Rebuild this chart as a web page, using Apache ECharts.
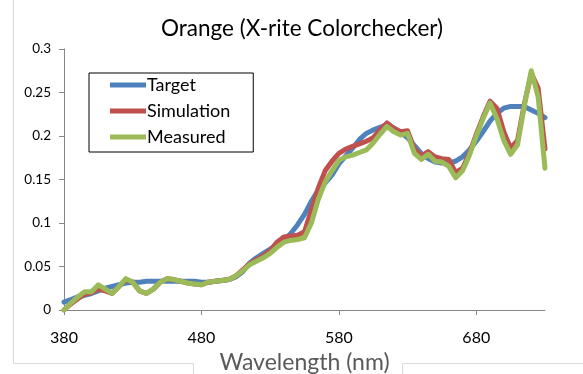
<!DOCTYPE html>
<html>
<head>
<meta charset="utf-8">
<script src="https://cdn.jsdelivr.net/npm/echarts@6/dist/echarts.min.js"></script>
<style>html,body{margin:0;padding:0;background:#fff}#c{width:583px;height:374px}</style>
</head>
<body>
<div id="c"></div>
<script>
var wavelengths = [380,385,390,395,400,405,410,415,420,425,430,435,440,445,450,455,460,465,470,475,480,485,490,495,500,505,510,515,520,525,530,535,540,545,550,555,560,565,570,575,580,585,590,595,600,605,610,615,620,625,630,635,640,645,650,655,660,665,670,675,680,685,690,695,700,705,710,715,720,725,730];
var target = [0.009,0.012,0.015,0.017,0.019,0.022,0.025,0.027,0.029,0.031,0.032,0.032,0.033,0.033,0.033,0.033,0.033,0.033,0.033,0.033,0.032,0.032,0.033,0.034,0.035,0.038,0.044,0.054,0.060,0.065,0.070,0.075,0.080,0.088,0.098,0.110,0.125,0.138,0.146,0.155,0.168,0.177,0.186,0.196,0.203,0.207,0.210,0.213,0.209,0.204,0.198,0.189,0.180,0.174,0.170,0.169,0.169,0.171,0.176,0.184,0.194,0.205,0.217,0.226,0.232,0.234,0.234,0.234,0.230,0.226,0.221];
var simulation = [0.000,0.007,0.013,0.018,0.020,0.024,0.022,0.019,0.027,0.035,0.032,0.022,0.019,0.024,0.032,0.036,0.035,0.033,0.031,0.030,0.029,0.032,0.033,0.034,0.035,0.039,0.046,0.053,0.058,0.062,0.068,0.078,0.084,0.085,0.086,0.090,0.115,0.140,0.160,0.171,0.180,0.185,0.188,0.191,0.194,0.198,0.207,0.215,0.209,0.205,0.206,0.185,0.177,0.182,0.176,0.174,0.173,0.158,0.163,0.180,0.202,0.222,0.240,0.232,0.205,0.186,0.195,0.237,0.272,0.255,0.185];
var measured = [0.000,0.008,0.015,0.021,0.021,0.029,0.024,0.019,0.027,0.036,0.032,0.022,0.019,0.024,0.032,0.036,0.035,0.033,0.031,0.030,0.029,0.032,0.033,0.034,0.035,0.039,0.045,0.052,0.056,0.060,0.065,0.072,0.078,0.080,0.081,0.083,0.100,0.127,0.147,0.160,0.172,0.176,0.178,0.181,0.184,0.192,0.202,0.211,0.205,0.201,0.203,0.180,0.173,0.179,0.171,0.170,0.165,0.152,0.160,0.178,0.200,0.220,0.238,0.220,0.195,0.179,0.190,0.235,0.275,0.245,0.163];
var xTicks = [380,480,580,680];
var seriesNames = ['Target','Simulation','Measured'];
var colors = ['#4F81BD','#C0504D','#9BBB59'];

function pairs(vals){ return wavelengths.map(function(w,i){ return [w, vals[i]]; }); }
var allVals = [target, simulation, measured];

var font = 'Lato, "Open Sans", sans-serif';
var chart = echarts.init(document.getElementById('c'), null, {renderer:'canvas'});
chart.setOption({
  animation:false,
  backgroundColor:'#fff',
  title:{text:'Orange (X-rite Colorchecker)', left:297, textAlign:'center', top:12,
    textStyle:{fontFamily:font, fontSize:22.5, fontWeight:'normal', color:'#000'}},
  grid:{left:64, right:38, top:49, bottom:64, containLabel:false, outerBoundsMode:'none'},
  legend:{
    orient:'vertical', left:89, top:73,
    data:seriesNames, icon:'rect', itemWidth:36, itemHeight:5,
    itemGap:6, borderColor:'#000', borderWidth:1, borderRadius:0,
    padding:[2,23,5,21],
    textStyle:{fontFamily:font, fontSize:18, color:'#000', lineHeight:20, padding:[0,0,0,-4]}
  },
  xAxis:{type:'value', min:380, max:730, interval:100,
    name:'Wavelength (nm)', nameLocation:'middle', nameGap:36,
    nameTextStyle:{fontFamily:font, fontSize:23, color:'#595959', verticalAlign:'top', padding:[0,0,0,0]},
    axisLine:{show:true, lineStyle:{color:'#868686', width:1}},
    axisTick:{show:true, customValues:xTicks, length:5, lineStyle:{color:'#868686'}},
    axisLabel:{customValues:xTicks, fontFamily:font, fontSize:16, color:'#000', margin:20},
    splitLine:{show:false}},
  yAxis:{type:'value', min:0, max:0.3, interval:0.05,
    axisLine:{show:true, lineStyle:{color:'#868686', width:1}},
    axisTick:{show:true, length:5, lineStyle:{color:'#868686'}},
    axisLabel:{fontFamily:font, fontSize:13.5, color:'#000', margin:13,
      formatter:function(v){ return String(+v.toFixed(2)); }},
    splitLine:{show:false}},
  graphic:[
    {type:'line', shape:{x1:13.5,y1:0,x2:13.5,y2:363.5}, style:{stroke:'#d9d9d9', lineWidth:1}, silent:true},
    {type:'polyline', shape:{points:[[13.5,363.5],[193.5,363.5],[193.5,374]]}, style:{stroke:'#d9d9d9', lineWidth:1, fill:null}, silent:true},
    {type:'polyline', shape:{points:[[402.5,374],[402.5,363.5],[583,363.5]]}, style:{stroke:'#d9d9d9', lineWidth:1, fill:null}, silent:true}
  ],
  series: seriesNames.map(function(n,i){
    return {name:n, type:'line', data:pairs(allVals[i]), showSymbol:false, symbol:'none',
      lineStyle:{color:colors[i], width:5, join:'round', cap:'round'}, itemStyle:{color:colors[i]}, z:2+i};
  })
});
</script>
</body>
</html>
